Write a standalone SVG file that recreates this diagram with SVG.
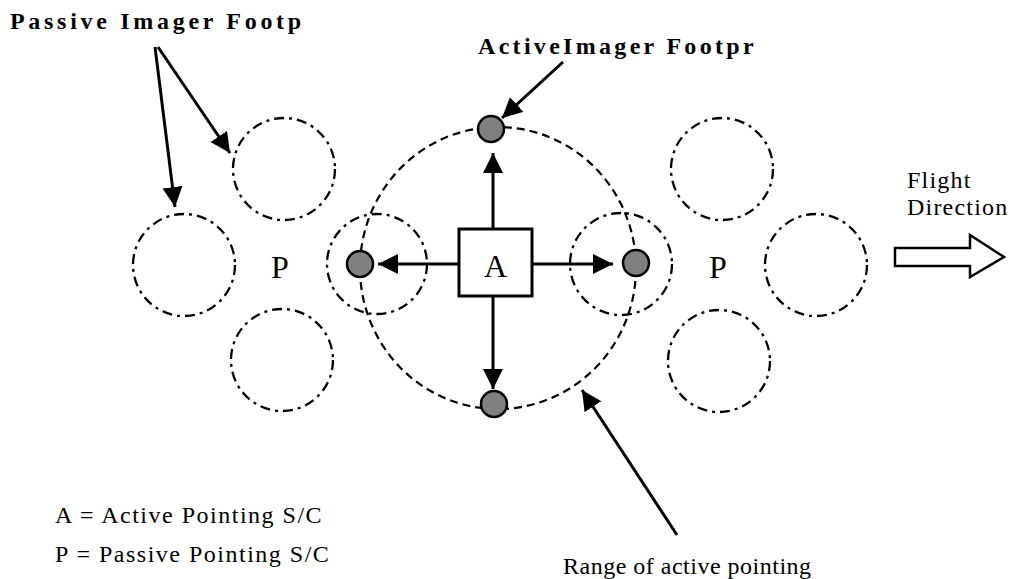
<svg xmlns="http://www.w3.org/2000/svg" width="1012" height="579" viewBox="0 0 1012 579">
<style>
.fp{fill:none;stroke:#000;stroke-width:2.3;stroke-dasharray:10 5 3 5}
.rng{fill:none;stroke:#000;stroke-width:2.2;stroke-dasharray:8 5}
.dot{fill:#808080;stroke:#000;stroke-width:2.5}
.ln{stroke:#000;stroke-width:3;fill:none}
.bt{font-family:"Liberation Serif","Times New Roman",serif;font-weight:bold;font-size:24px;fill:#000}
.rt{font-family:"Liberation Serif","Times New Roman",serif;font-size:24px;fill:#000}
.big{font-family:"Liberation Serif","Times New Roman",serif;font-size:32px;fill:#000}
</style>
<defs>
<marker id="ah" markerUnits="userSpaceOnUse" markerWidth="22" markerHeight="22" refX="20" refY="10" orient="auto">
<path d="M0,0 L20,10 L0,20 z" fill="#000"/>
</marker>
</defs>
<rect width="1012" height="579" fill="#fff"/>

<g id="passive-left">
<circle class="fp" cx="284" cy="169" r="51"/>
<circle class="fp" cx="184" cy="265" r="51"/>
<circle class="fp" cx="282" cy="360" r="51"/>
<circle class="fp" cx="377" cy="264" r="50"/>
<text class="big" x="271" y="278">P</text>
</g>

<g id="passive-right">
<circle class="fp" cx="621" cy="264" r="51"/>
<circle class="fp" cx="722" cy="169" r="51"/>
<circle class="fp" cx="816" cy="265" r="51"/>
<circle class="fp" cx="719" cy="361" r="51"/>
<text class="big" x="709" y="278">P</text>
</g>

<g id="range">
<ellipse class="rng" cx="498" cy="268" rx="138" ry="141"/>
</g>

<g id="active-footprints">
<circle class="dot" cx="491" cy="129" r="13"/>
<circle class="dot" cx="360" cy="264" r="13"/>
<circle class="dot" cx="636" cy="263" r="13"/>
<circle class="dot" cx="494" cy="404" r="13"/>
</g>

<g id="node-A">
<rect x="459" y="229" width="73" height="67" fill="#fff" stroke="#000" stroke-width="3"/>
<text class="big" x="495.5" y="277" text-anchor="middle">A</text>
</g>

<g id="connectors">
<line class="ln" x1="493" y1="229" x2="493" y2="153" marker-end="url(#ah)"/>
<line class="ln" x1="459" y1="264" x2="378" y2="264" marker-end="url(#ah)"/>
<line class="ln" x1="532" y1="264" x2="613" y2="264" marker-end="url(#ah)"/>
<line class="ln" x1="493" y1="296" x2="493" y2="389" marker-end="url(#ah)"/>
<line class="ln" x1="155" y1="47" x2="175" y2="207" marker-end="url(#ah)"/>
<line class="ln" x1="158" y1="47" x2="230" y2="153" marker-end="url(#ah)"/>
<line class="ln" x1="563" y1="62" x2="502" y2="118" marker-end="url(#ah)"/>
<line class="ln" x1="677" y1="535" x2="582" y2="390" marker-end="url(#ah)"/>
</g>

<g id="flight">
<polygon points="895,248 970,248 970,235 1004,257 970,277 970,266 895,266" fill="#fff" stroke="#000" stroke-width="2.5"/>
<text class="rt" x="907" y="188" letter-spacing="1.2">Flight</text>
<text class="rt" x="907" y="215" letter-spacing="1.2">Direction</text>
</g>

<g id="labels">
<text class="bt" x="10" y="29" letter-spacing="3.7">Passive Imager Footp</text>
<text class="bt" x="478" y="54" letter-spacing="3.3">ActiveImager Footpr</text>
<text class="rt" x="55" y="523" letter-spacing="1.5">A = Active Pointing S/C</text>
<text class="rt" x="55" y="562" letter-spacing="1.5">P = Passive Pointing S/C</text>
<text class="rt" x="563" y="574" letter-spacing="0.5">Range of active pointing</text>
</g>
</svg>
